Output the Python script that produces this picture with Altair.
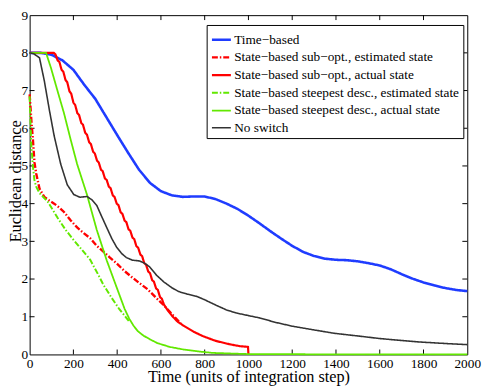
import altair as alt
import pandas as pd

# ---------------- data ----------------
series_names = [
    "Time\u2212based",
    "State\u2212based sub\u2212opt., estimated state",
    "State\u2212based sub\u2212opt., actual state",
    "State\u2212based steepest desc., estimated state",
    "State\u2212based steepest desc., actual state",
    "No switch",
]

blue_t = [0, 50, 100, 150, 200, 250, 300, 350, 400, 450, 500, 550, 600, 650, 700, 750, 800, 850,
          900, 950, 1000, 1050, 1100, 1150, 1200, 1250, 1300, 1350, 1400, 1450, 1500, 1550, 1600,
          1650, 1700, 1750, 1800, 1850, 1900, 1950, 2000]
blue_v = [8.0, 8.0, 7.95, 7.8, 7.55, 7.15, 6.78, 6.3, 5.82, 5.35, 4.9, 4.55, 4.33, 4.22, 4.18, 4.19,
          4.19, 4.12, 4.0, 3.86, 3.68, 3.48, 3.27, 3.07, 2.88, 2.72, 2.61, 2.54, 2.51, 2.5, 2.47,
          2.42, 2.36, 2.26, 2.13, 2.01, 1.91, 1.83, 1.76, 1.71, 1.68]

red_est_t = [0, 8, 15, 22, 30, 45, 67, 90, 112, 135, 157, 187, 217, 247, 277, 307, 337, 367, 397,
             432, 465, 500, 539, 575, 614, 650, 690]
red_est_v = [6.9, 6.2, 5.7, 5.1, 4.8, 4.4, 4.18, 4.08, 4.0, 3.9, 3.78, 3.56, 3.37, 3.22, 3.08, 2.88,
             2.73, 2.57, 2.42, 2.22, 2.06, 1.9, 1.73, 1.52, 1.3, 1.07, 0.82]

red_act_t = [0, 110, 118, 128, 136, 146, 154, 164, 172, 182, 190, 200, 208, 218, 226, 236, 244,
             254, 262, 272, 280, 290, 298, 308, 316, 326, 334, 344, 352, 362, 370, 380, 388, 398,
             406, 416, 424, 434, 442, 452, 460, 470, 478, 488, 496, 506, 514, 524, 532, 542, 550,
             560, 568, 578, 586, 596, 604, 614, 630, 650, 674, 704, 750, 794, 850, 914, 960, 998,
             1000]
red_act_v = [8.0, 8.0, 7.96, 7.8, 7.76, 7.55, 7.5, 7.28, 7.22, 6.98, 6.92, 6.68, 6.62, 6.4, 6.35,
             6.14, 6.09, 5.88, 5.83, 5.63, 5.58, 5.38, 5.33, 5.14, 5.09, 4.9, 4.86, 4.67, 4.63,
             4.45, 4.41, 4.22, 4.18, 4.0, 3.96, 3.77, 3.73, 3.55, 3.51, 3.32, 3.28, 3.1, 3.06,
             2.87, 2.83, 2.65, 2.61, 2.42, 2.38, 2.2, 2.16, 1.97, 1.93, 1.75, 1.71, 1.52, 1.48,
             1.32, 1.18, 1.03, 0.88, 0.76, 0.6, 0.48, 0.36, 0.27, 0.22, 0.2, 0.0]

green_est_t = [0, 7, 15, 22, 30, 45, 82, 127, 165, 202, 240, 277, 315, 337, 375, 410, 449, 457]
green_est_v = [6.85, 5.6, 5.0, 4.62, 4.45, 4.28, 4.06, 3.63, 3.3, 3.03, 2.77, 2.51, 2.1, 1.85,
               1.5, 1.2, 0.92, 0.85]

green_act_t = [0, 75, 97, 127, 157, 187, 217, 262, 307, 352, 390, 434, 455, 475, 494, 520, 550,
               584, 640, 704, 770, 838, 1000, 1500, 2000]
green_act_v = [8.0, 8.0, 7.61, 7.0, 6.4, 5.71, 5.05, 4.24, 3.3, 2.5, 1.9, 1.21, 0.95, 0.76, 0.62,
               0.5, 0.4, 0.3, 0.2, 0.13, 0.08, 0.04, 0.01, 0.0, 0.0]

black_t = [0, 20, 45, 67, 90, 112, 142, 172, 202, 230, 262, 285, 307, 330, 352, 375, 397, 420,
           442, 470, 502, 525, 547, 580, 614, 650, 680, 720, 764, 800, 854, 900, 944, 1000, 1050,
           1124, 1200, 1300, 1393, 1500, 1603, 1700, 1783, 1900, 2000]
black_v = [8.0, 7.97, 7.87, 7.26, 6.49, 5.8, 5.05, 4.5, 4.24, 4.17, 4.19, 4.1, 3.95, 3.65, 3.37,
           3.08, 2.85, 2.68, 2.57, 2.5, 2.48, 2.42, 2.33, 2.1, 1.92, 1.77, 1.67, 1.6, 1.54, 1.45,
           1.3, 1.18, 1.1, 1.03, 0.97, 0.85, 0.75, 0.65, 0.56, 0.49, 0.42, 0.37, 0.33, 0.29, 0.26]

x_ticks = [0, 200, 400, 600, 800, 1000, 1200, 1400, 1600, 1800, 2000]
y_ticks = [0, 1, 2, 3, 4, 5, 6, 7, 8, 9]

# ---------------- styling ----------------
colors = ["#1f3cff", "#ff0000", "#ff0000", "#62e800", "#62e800", "#333333"]
dashes = [[1, 0], [6, 2, 1.5, 2], [1, 0], [6, 2, 1.5, 2], [1, 0], [1, 0]]
widths = [2.6, 1.6, 2.0, 1.6, 2.0, 0.8]

all_t = [blue_t, red_est_t, red_act_t, green_est_t, green_act_t, black_t]
all_v = [blue_v, red_est_v, red_act_v, green_est_v, green_act_v, black_v]
rows = []
for k, (name, ts, vs) in enumerate(zip(series_names, all_t, all_v)):
    for i, (t, v) in enumerate(zip(ts, vs)):
        rows.append({"series": name, "t": t, "v": v, "i": i, "k": k})
df = pd.DataFrame(rows)
xt_df = pd.DataFrame({"t": x_ticks[1:-1]})
yt_df = pd.DataFrame({"v": y_ticks[1:-1]})

W, H = 445, 345
FONT = "Liberation Serif"
TICK = 5
xscale = alt.Scale(domain=[0, 2000], nice=False, zero=False)
yscale = alt.Scale(domain=[0, 9], nice=False, zero=False)

x_axis = alt.Axis(values=x_ticks, format="d", labelPadding=2, labelOverlap=False,
                  titleX=W / 2, titleY=28, titleBaseline="alphabetic", titleAlign="center")
y_axis = alt.Axis(values=y_ticks, format="d", labelPadding=2, labelOverlap=False,
                  titleX=-9.5, titleY=H / 2 - 4, titleBaseline="alphabetic",
                  titleAlign="center", titleAngle=270)
X_TITLE = "Time (units of integration step)"
Y_TITLE = "Euclidean distance"

color = alt.Color("series:N", scale=alt.Scale(domain=series_names, range=colors),
                  sort=series_names, title=None)
dash = alt.StrokeDash("series:N", scale=alt.Scale(domain=series_names, range=dashes),
                      sort=series_names, title=None)
sw = alt.StrokeWidth("series:N", scale=alt.Scale(domain=series_names, range=widths),
                     sort=series_names, title=None)

lines = alt.Chart(df).mark_line(clip=False).encode(
    x=alt.X("t:Q", scale=xscale, title=X_TITLE, axis=x_axis),
    y=alt.Y("v:Q", scale=yscale, title=Y_TITLE, axis=y_axis),
    color=color, strokeDash=dash, strokeWidth=sw,
    order="i:Q", detail="k:N",
)

# inward tick marks on all four sides
xt_bottom = alt.Chart(xt_df).mark_rule(color="black", strokeWidth=1).encode(
    x=alt.X("t:Q", scale=xscale, title=X_TITLE, axis=x_axis),
    y=alt.value(H), y2=alt.value(H - TICK))
xt_top = alt.Chart(xt_df).mark_rule(color="black", strokeWidth=1).encode(
    x=alt.X("t:Q", scale=xscale, title=X_TITLE, axis=x_axis),
    y=alt.value(0), y2=alt.value(TICK))
yt_left = alt.Chart(yt_df).mark_rule(color="black", strokeWidth=1).encode(
    y=alt.Y("v:Q", scale=yscale, title=Y_TITLE, axis=y_axis),
    x=alt.value(0), x2=alt.value(TICK))
yt_right = alt.Chart(yt_df).mark_rule(color="black", strokeWidth=1).encode(
    y=alt.Y("v:Q", scale=yscale, title=Y_TITLE, axis=y_axis),
    x=alt.value(W), x2=alt.value(W - TICK))

chart = alt.layer(xt_bottom, xt_top, yt_left, yt_right, lines).properties(
    width=W, height=H,
    autosize=alt.AutoSizeParams(type="none"),
    padding={"left": 22, "top": 4, "right": 16, "bottom": 40},
    background="white",
).configure(font=FONT).configure_axis(
    tickSize=0, domain=False, grid=False, labelFont=FONT, labelFontSize=13.5,
    labelColor="black", labelFlush=False, labelOverlap=False, titleFont=FONT,
    titleFontSize=16.5, titleFontWeight="normal", titleColor="black",
).configure_legend(
    orient="none", legendX=180, legendY=10, title=None,
    symbolType="stroke", symbolSize=370, labelFont=FONT, labelFontSize=13.5,
    labelColor="black", labelLimit=400, strokeColor="black", fillColor="white",
    padding=4, rowPadding=0, cornerRadius=0, labelOffset=2,
).configure_view(stroke="black", strokeWidth=1)

chart.save("out.html", embed_options={"renderer": "svg", "actions": False})
